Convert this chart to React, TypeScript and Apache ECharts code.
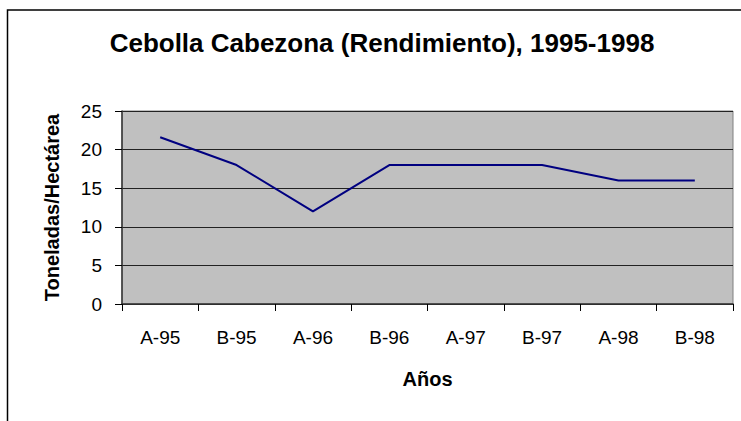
import React, { useEffect, useRef } from "react";
import * as echarts from "echarts";

const categories = ["A-95", "B-95", "A-96", "B-96", "A-97", "B-97", "A-98", "B-98"];
const yieldValues = [21.6, 18, 12, 18, 18, 18, 16, 16];
const titleText = "Cebolla Cabezona (Rendimiento), 1995-1998";
const yAxisName = "Toneladas/Hectárea";
const xAxisName = "Años";

const FONT = "'Liberation Sans', Arial, sans-serif";

export default function App() {
  const ref = useRef<HTMLDivElement>(null);
  useEffect(() => {
    document.body.style.margin = "0";
    const chart = echarts.init(ref.current!, null, { renderer: "svg" });
    chart.setOption({
      animation: false,
      backgroundColor: "#ffffff",
      graphic: [
        {
          type: "rect",
          shape: { x: 7.5, y: 10, width: 900, height: 600 },
          style: { fill: "none", stroke: "#000", lineWidth: 1.5 },
          z: 0,
        },
        {
          type: "text",
          x: 382,
          y: 43,
          style: {
            text: titleText,
            font: `bold 26px ${FONT}`,
            fill: "#000",
            textAlign: "center",
            textVerticalAlign: "middle",
          },
        },
      ],
      grid: {
        left: 122,
        right: 8,
        top: 111,
        bottom: 117,
        show: true,
        backgroundColor: "#C0C0C0",
        borderColor: "#808080",
        borderWidth: 1,
      },
      xAxis: {
        type: "category",
        data: categories,
        boundaryGap: true,
        name: xAxisName,
        nameLocation: "middle",
        nameGap: 65,
        nameTextStyle: { fontFamily: FONT, fontSize: 20, fontWeight: "bold", color: "#000" },
        axisLine: { show: true, lineStyle: { color: "#333", width: 1.5 } },
        axisTick: { show: true, length: 7, lineStyle: { color: "#000" } },
        axisLabel: { fontFamily: FONT, fontSize: 19, color: "#000", margin: 24 },
        splitLine: { show: false },
      },
      yAxis: {
        type: "value",
        min: 0,
        max: 25,
        interval: 5,
        name: yAxisName,
        nameLocation: "middle",
        nameGap: 60,
        nameRotate: 90,
        nameTextStyle: { fontFamily: FONT, fontSize: 20, fontWeight: "bold", color: "#000" },
        axisLine: { show: true, lineStyle: { color: "#333", width: 1.5 } },
        axisTick: { show: true, length: 7, lineStyle: { color: "#000" } },
        axisLabel: { fontFamily: FONT, fontSize: 19, color: "#000", margin: 20 },
        splitLine: { show: true, lineStyle: { color: "#222", width: 1 } },
      },
      series: [
        {
          type: "line",
          data: yieldValues,
          showSymbol: false,
          symbol: "none",
          lineStyle: { color: "#000080", width: 2 },
          itemStyle: { color: "#000080" },
        },
      ],
    });
    return () => chart.dispose();
  }, []);
  return <div ref={ref} style={{ width: 741, height: 421 }} />;
}
